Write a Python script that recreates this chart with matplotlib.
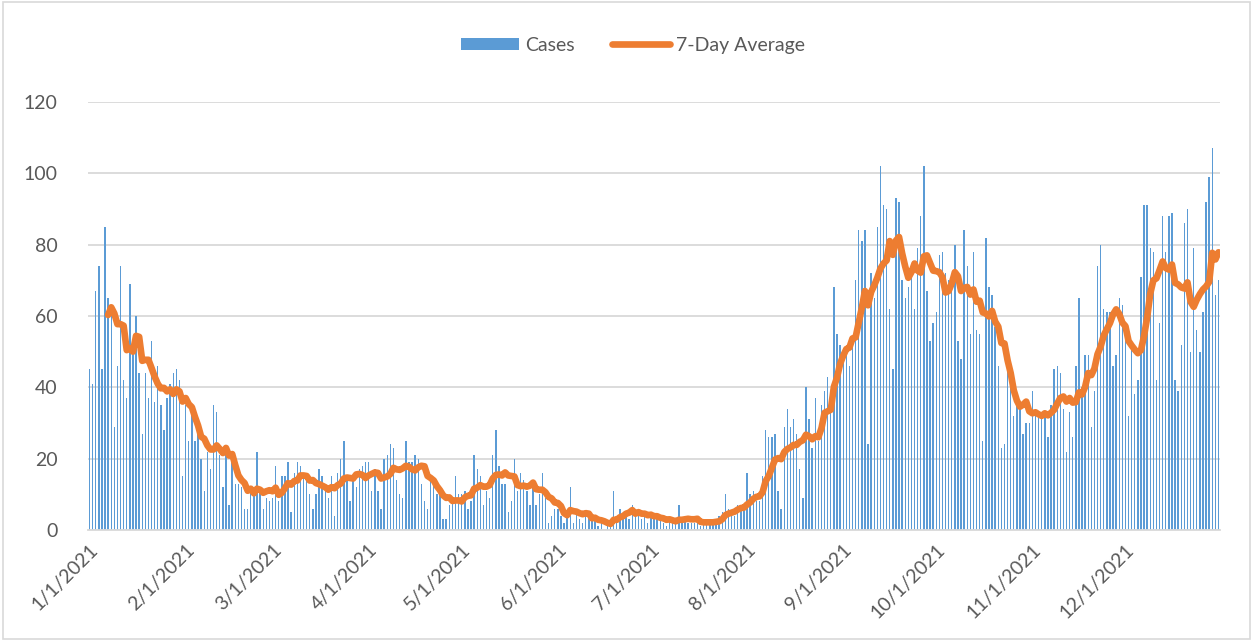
import numpy as np
import pandas as pd
import matplotlib
matplotlib.use("Agg")
import matplotlib.pyplot as plt

# daily cases
jan = [45, 41, 67, 74, 45, 85, 65, 60, 29, 46, 74, 42, 37, 69, 53, 60, 44, 27, 44, 37,
       53, 36, 46, 35, 28, 37, 41, 44, 45, 42, 15]
feb = [35, 25, 35, 25, 28, 20, 11, 22, 17, 35, 33, 21, 12, 21, 7, 20, 13, 13, 12, 6,
       6, 11, 11, 22, 11, 6, 9, 8]
mar = [9, 18, 8, 15, 15, 19, 5, 16, 19, 18, 15, 14, 10, 6, 10, 17, 15, 12, 9, 15,
       4, 16, 20, 25, 14, 8, 14, 12, 17, 18, 19]
apr = [19, 11, 17, 11, 6, 20, 21, 24, 23, 14, 10, 9, 25, 19, 19, 21, 20, 13, 8, 6,
       15, 14, 10, 12, 3, 3, 7, 8, 15, 10]
may = [10, 11, 6, 8, 21, 17, 15, 7, 11, 9, 21, 28, 18, 13, 13, 5, 8, 20, 11, 16,
       14, 11, 7, 14, 7, 10, 16, 9, 2, 4, 6]
jun = [6, 4, 2, 5, 12, 2, 5, 3, 2, 4, 4, 3, 3, 1, 2, 0, 1, 2, 11, 3,
       6, 4, 5, 3, 7, 4, 6, 3, 4, 2]
jul = [4, 4, 4, 3, 2, 1, 3, 2, 2, 7, 3, 3, 2, 2, 2, 3, 1, 2, 3, 2,
       2, 3, 4, 5, 10, 6, 4, 4, 7, 7, 6]
aug = [16, 10, 11, 8, 8, 15, 28, 26, 26, 27, 11, 6, 29, 34, 29, 31, 27, 17, 9, 40,
       31, 23, 37, 25, 35, 39, 43, 34, 68, 55, 52]
sep = [51, 52, 46, 52, 70, 84, 81, 84, 24, 72, 65, 85, 102, 91, 90, 62, 45, 93, 92, 70,
       65, 68, 73, 62, 79, 88, 102, 67, 53, 58]
oct_ = [61, 77, 78, 72, 70, 68, 80, 53, 48, 84, 74, 55, 78, 56, 55, 25, 82, 68, 66, 57,
        46, 23, 24, 49, 43, 32, 37, 34, 27, 30, 30]
nov = [39, 34, 33, 31, 32, 26, 35, 45, 46, 44, 34, 22, 33, 26, 46, 65, 40, 49, 49, 29,
       39, 74, 80, 62, 61, 61, 46, 49, 65, 63]
dec = [55, 32, 52, 38, 42, 71, 91, 91, 79, 78, 42, 58, 88, 78, 88, 89, 42, 39, 52, 86,
       90, 50, 79, 56, 50, 61, 92, 99, 107, 66, 70]

cases = jan + feb + mar + apr + may + jun + jul + aug + sep + oct_ + nov + dec
dates = pd.date_range("2021-01-01", periods=len(cases), freq="D")
df = pd.DataFrame({"cases": cases}, index=dates)
# 7-day average starts once a full week is available
df["avg"] = df["cases"].rolling(7).mean()

month_starts = pd.date_range("2021-01-01", "2021-12-01", freq="MS")
tick_labels = [f"{d.month}/{d.day}/{d.year}" for d in month_starts]
y_ticks = [0, 20, 40, 60, 80, 100, 120]

blue = "#5B9BD5"
orange = "#ED7D31"
grid_gray = "#D9D9D9"
text_gray = "#595959"

plt.rcParams["font.family"] = ["Lato", "DejaVu Sans"]

fig = plt.figure(figsize=(12.53, 6.41), dpi=100)
ax = fig.add_axes([0.0702, 0.1732, 0.9035, 0.6677])

x = np.arange(len(df))
bars = ax.bar(x, df["cases"], width=0.45, color=blue, label="Cases", zorder=2)
line, = ax.plot(x, df["avg"], color=orange, lw=4.8, solid_capstyle="round",
                solid_joinstyle="round", label="7-Day Average", zorder=3)

ax.set_xlim(-0.5, len(df) - 0.5)
ax.set_ylim(0, 120)
ax.set_yticks(y_ticks)
ax.set_yticklabels([str(v) for v in y_ticks])
ax.yaxis.grid(True, color=grid_gray, lw=1.3, zorder=0)
ax.set_axisbelow(True)

tick_pos = [(d - dates[0]).days for d in month_starts]
ax.set_xticks(tick_pos)
ax.set_xticklabels(tick_labels, rotation=45, ha="right", rotation_mode="anchor")

for side in ["top", "right", "left"]:
    ax.spines[side].set_visible(False)
ax.spines["bottom"].set_color(grid_gray)
ax.spines["bottom"].set_linewidth(1.3)
ax.tick_params(axis="both", length=0, labelsize=14, colors=text_gray, pad=8)
ax.tick_params(axis="y", pad=22)

leg = fig.legend(handles=[bars, line], loc="upper center",
                 bbox_to_anchor=(0.505, 0.97), ncol=2, frameon=False, fontsize=14,
                 handlelength=3.0, handleheight=0.6, columnspacing=1.9,
                 handletextpad=0.3)
for t in leg.get_texts():
    t.set_color(text_gray)

# light chart-area border
fig.patches.append(plt.Rectangle((0.002, 0.003), 0.996, 0.994, transform=fig.transFigure,
                                 fill=False, edgecolor=grid_gray, lw=1.2))

fig.savefig("out.png", dpi=100)
